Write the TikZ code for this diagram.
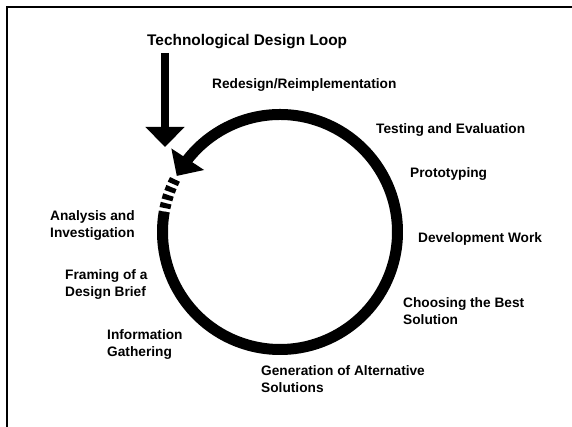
\documentclass[tikz,border=0pt]{standalone}
\usepackage{fontspec}
\setmainfont{Liberation Sans}
\usetikzlibrary{arrows.meta,bending}
\begin{document}
\begin{tikzpicture}[x=1pt,y=1pt,
  lbl/.style={anchor=base west,inner sep=0pt,align=left,
    font=\fontsize{13.7}{17}\selectfont\bfseries},
  ttl/.style={anchor=base west,inner sep=0pt,
    font=\fontsize{15.4}{18}\selectfont\bfseries},
  ring/.style={line width=11pt},
  bigtip/.style={-{Triangle[length=20pt,width=38pt]}}]
\useasboundingbox (0,0) rectangle (572,427);
\fill[white] (0,0) rectangle (572,427);
% frame
\draw[line width=2.5pt] (7,0) -- (7,420) -- (572,420);
% loop
\coordinate (C) at (280,195);
\draw[ring,bigtip] ([shift={(170:117.5)}]C) arc[start angle=170,end angle=511.5,radius=117.5];
\draw[ring,dash pattern=on 5pt off 3.5pt] ([shift={(153.4:117.5)}]C) arc[start angle=153.4,end angle=170,radius=117.5];
% entry arrow
\coordinate (in0) at (165,374);
\coordinate (in1) at (165,280);
\draw[line width=8pt,bigtip] (in0) -- (in1);
% labels (multi-line labels anchored at the baseline of their last line)
\node[ttl] (title) at (147,381) {Technological Design Loop};
\node[lbl] (redesign) at (212,338) {Redesign/Reimplementation};
\node[lbl] (testing) at (376,293) {Testing and Evaluation};
\node[lbl] (proto) at (410,249) {Prototyping};
\node[lbl] (dev) at (418,184) {Development Work};
\node[lbl] (choose) at (403,102) {Choosing the Best\\Solution};
\node[lbl] (gen) at (261,34) {Generation of Alternative\\Solutions};
\node[lbl] (info) at (107,70) {Information\\Gathering};
\node[lbl] (brief) at (65,130) {Framing of a\\Design Brief};
\node[lbl] (analysis) at (50,189) {Analysis and\\Investigation};
\end{tikzpicture}
\end{document}
